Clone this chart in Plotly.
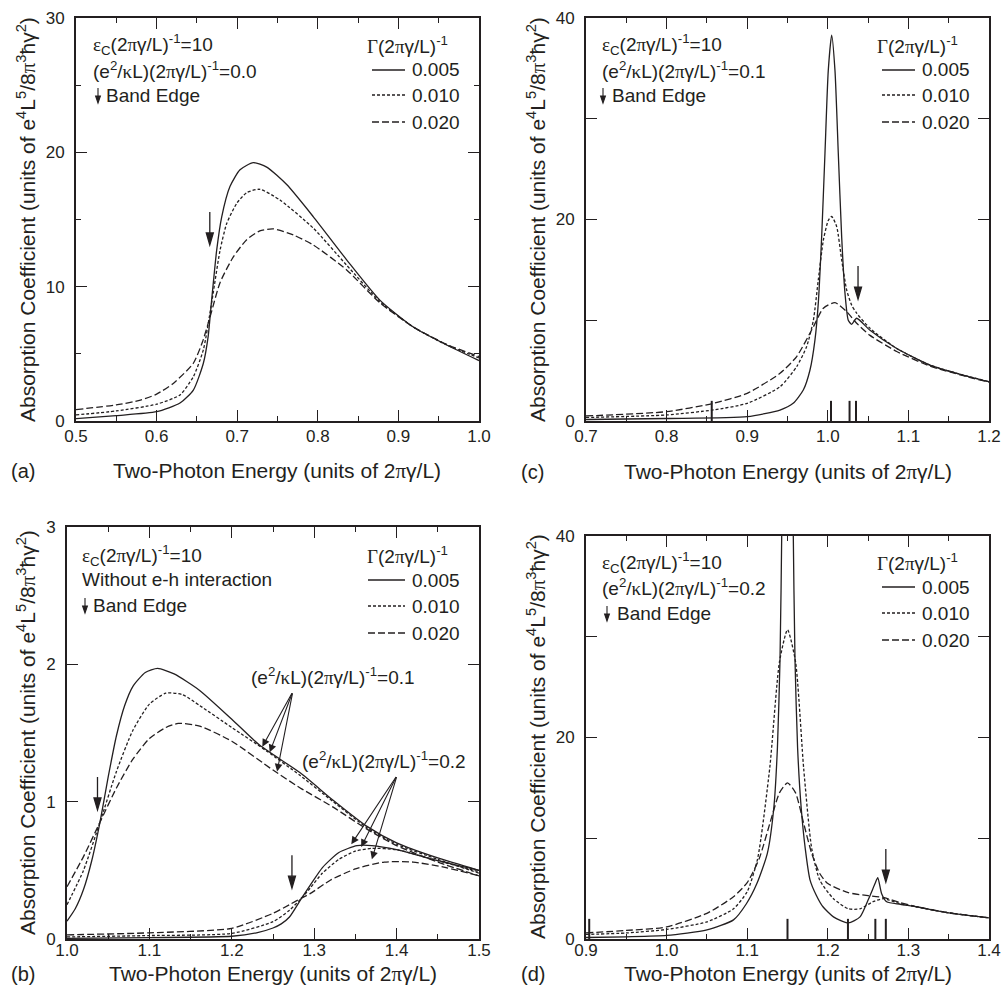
import plotly.graph_objects as go

W, H = 1003, 1004
INK = "#231f20"
FONT = "Liberation Sans, Arial, Helvetica, sans-serif"

def gr(ch):
    return '<span style="font-family:Liberation Serif">' + ch + '</span>'

PI, KAPPA, GAMMA_UP, EPS = gr("π"), gr("κ"), gr("Γ"), gr("ε")

# ---------------- data ----------------
gamma_labels = ["0.005", "0.010", "0.020"]

# panel (a): e^2/kL = 0.0
a_x_solid = [0.5, 0.55, 0.6, 0.629, 0.6456, 0.658, 0.664, 0.6675, 0.6704, 0.6745, 0.6808, 0.691, 0.7035,
             0.72, 0.7366, 0.7614, 0.7945, 0.8358, 0.877, 0.9185, 0.96, 1.0]
a_y_solid = [0.18, 0.4, 0.69, 1.34, 2.3, 4.3, 6.3, 8.5, 10.3, 12.7, 15.2, 17.45, 18.7,
             19.23, 18.9, 17.6, 15.2, 12.0, 9.0, 7.0, 5.66, 4.5]
a_x_dot = [0.5, 0.55, 0.6, 0.629, 0.6456, 0.658, 0.6675, 0.6787, 0.687, 0.6994, 0.7118, 0.728, 0.7531,
           0.7945, 0.8358, 0.877, 0.9185, 0.96, 1.0]
a_y_dot = [0.45, 0.75, 1.25, 1.94, 3.3, 5.3, 8.5, 12.7, 14.7, 16.2, 17.0, 17.25, 16.45,
           14.35, 11.6, 8.9, 7.0, 5.66, 4.7]
a_x_dash = [0.5, 0.55, 0.58, 0.6, 0.6207, 0.6456, 0.657, 0.6675, 0.6787, 0.695, 0.7118, 0.728, 0.7448,
            0.7696, 0.7945, 0.8358, 0.877, 0.9185, 0.96, 1.0]
a_y_dash = [0.85, 1.2, 1.55, 2.0, 2.8, 4.3, 5.9, 8.0, 10.3, 12.2, 13.5, 14.15, 14.3,
            13.85, 13.1, 11.25, 8.8, 7.0, 5.7, 4.8]

# panel (c): e^2/kL = 0.1
c_x_solid = [0.7, 0.8, 0.9, 0.9407, 0.957, 0.9696, 0.9779, 0.984, 0.9882, 0.9924, 0.9965, 1.0006, 1.0048,
             1.0089, 1.013, 1.0172, 1.0213, 1.0254, 1.0296, 1.0358, 1.0524, 1.0855, 1.1268, 1.168, 1.2]
c_y_solid = [0.15, 0.25, 0.43, 1.09, 1.75, 3.07, 5.06, 8.0, 11.7, 18.3, 26.6, 34.8, 38.3,
             34.8, 26.6, 18.3, 12.7, 10.0, 9.6, 10.2, 9.0, 7.2, 5.55, 4.56, 3.9]
c_x_dot = [0.7, 0.8, 0.858, 0.9, 0.9407, 0.9614, 0.9738, 0.9821, 0.9882, 0.9945, 1.0006, 1.0048, 1.011,
           1.0172, 1.0234, 1.0296, 1.0358, 1.0524, 1.0855, 1.1268, 1.168, 1.2]
c_y_dot = [0.35, 0.6, 1.1, 1.75, 3.4, 5.4, 7.4, 10.0, 14.0, 17.96, 19.9, 20.3, 19.3,
           16.0, 13.0, 11.5, 10.7, 9.2, 7.2, 5.55, 4.56, 3.9]
c_x_dash = [0.7, 0.8, 0.858, 0.9, 0.9407, 0.9614, 0.9821, 0.9945, 1.0089, 1.0234, 1.0358, 1.0524,
            1.0855, 1.1268, 1.168, 1.2]
c_y_dash = [0.5, 0.93, 1.75, 2.75, 4.73, 6.4, 9.35, 11.2, 11.75, 10.85, 9.7, 8.5,
            6.9, 5.45, 4.5, 3.85]
c_levels = [0.856, 1.004, 1.027, 1.035]

# panel (b): without e-h interaction; two coupling values
b1_x_solid = [1.0, 1.01, 1.02, 1.03, 1.04, 1.05, 1.06, 1.07, 1.08, 1.095, 1.11, 1.13, 1.161, 1.2, 1.234,
              1.283, 1.323, 1.364, 1.4, 1.45, 1.5]
b1_y_solid = [0.13, 0.22, 0.36, 0.57, 0.85, 1.18, 1.48, 1.7, 1.84, 1.94, 1.97, 1.93, 1.81, 1.6, 1.41,
              1.21, 1.01, 0.82, 0.7, 0.59, 0.5]
b1_x_dot = [1.0, 1.02, 1.04, 1.06, 1.08, 1.1, 1.12, 1.14, 1.161, 1.2, 1.242, 1.283, 1.323, 1.364, 1.4,
            1.45, 1.5]
b1_y_dot = [0.25, 0.5, 0.85, 1.22, 1.52, 1.71, 1.79, 1.78, 1.70, 1.54, 1.37, 1.19, 1.0, 0.81, 0.69,
            0.58, 0.48]
b1_x_dash = [1.0, 1.02, 1.04, 1.06, 1.08, 1.1, 1.12, 1.135, 1.161, 1.2, 1.25, 1.283, 1.323, 1.364, 1.4,
             1.45, 1.5]
b1_y_dash = [0.38, 0.6, 0.85, 1.1, 1.31, 1.46, 1.54, 1.57, 1.55, 1.44, 1.23, 1.1, 0.96, 0.8, 0.68,
             0.56, 0.46]
b2_x_solid = [1.0, 1.1, 1.2, 1.23, 1.25, 1.26, 1.27, 1.285, 1.295, 1.31, 1.33, 1.352, 1.37, 1.4, 1.45, 1.5]
b2_y_solid = [0.005, 0.01, 0.02, 0.045, 0.08, 0.11, 0.16, 0.30, 0.39, 0.52, 0.63, 0.68, 0.68, 0.65, 0.57, 0.5]
b2_x_dot = [1.0, 1.1, 1.2, 1.25, 1.27, 1.285, 1.295, 1.31, 1.33, 1.35, 1.37, 1.4, 1.45, 1.5]
b2_y_dot = [0.015, 0.025, 0.041, 0.126, 0.21, 0.30, 0.37, 0.48, 0.58, 0.64, 0.66, 0.65, 0.57, 0.49]
b2_x_dash = [1.0, 1.1, 1.2, 1.25, 1.27, 1.285, 1.295, 1.32, 1.35, 1.385, 1.42, 1.46, 1.5]
b2_y_dash = [0.03, 0.045, 0.078, 0.187, 0.25, 0.30, 0.33, 0.43, 0.51, 0.56, 0.56, 0.52, 0.46]

# panel (d): e^2/kL = 0.2
d_x_solid = [0.9, 0.95, 1.0, 1.05, 1.083, 1.099, 1.112, 1.125, 1.133, 1.1375, 1.1407, 1.1428, 1.15,
             1.1572, 1.1593, 1.1625, 1.167, 1.172, 1.178, 1.186, 1.194, 1.207, 1.2254, 1.24, 1.25,
             1.2586, 1.262, 1.2668, 1.273, 1.29, 1.31, 1.35, 1.4]
d_y_solid = [0.15, 0.22, 0.35, 0.9, 1.9, 3.5, 5.5, 8.5, 13, 19, 27.7, 40, 110,
             40, 27.7, 19, 13, 9, 5.85, 4.3, 3.2, 2.2, 1.6, 2.2, 3.87,
             5.5, 6.1, 4.5, 3.7, 3.45, 3.2, 2.6, 2.1]
d_x_dot = [0.9, 0.95, 1.0, 1.05, 1.083, 1.1, 1.113, 1.128, 1.14, 1.15, 1.16, 1.17, 1.18, 1.19, 1.207,
           1.2254, 1.24, 1.256, 1.269, 1.29, 1.31, 1.35, 1.4]
d_y_dot = [0.45, 0.6, 0.95, 1.7, 3.0, 4.7, 8.0, 17, 27.5, 30.7, 27.5, 17, 9.0, 5.85, 4.0,
           3.0, 3.0, 3.7, 4.0, 3.5, 3.2, 2.6, 2.1]
d_x_dash = [0.9, 0.95, 1.0, 1.05, 1.083, 1.1, 1.115, 1.13, 1.14, 1.15, 1.16, 1.17, 1.18, 1.19, 1.2,
            1.2254, 1.25, 1.27, 1.29, 1.31, 1.35, 1.4]
d_y_dash = [0.6, 0.85, 1.2, 2.55, 4.2, 5.6, 8.0, 12.0, 14.5, 15.5, 14.5, 11.5, 8.5, 6.5, 5.5,
            4.6, 4.3, 4.1, 3.6, 3.2, 2.6, 2.1]
d_levels = [0.904, 1.150, 1.225, 1.259, 1.272]

# band edges: (x, y of arrow tip)
edge_a = [(0.666, 13.1)]
edge_c = [(1.0375, 12.1)]
edge_b = [(1.037, 0.94), (1.273, 0.37)]
edge_d = [(1.272, 5.65)]

# pointer arrows in (b): label tail point and curve tips
b_ptr1_tail = (1.274, 1.80)
b_ptr1_tips = [(1.237, 1.40), (1.246, 1.36), (1.255, 1.22)]
b_ptr2_tail = (1.4005, 1.19)
b_ptr2_tips = [(1.345, 0.69), (1.357, 0.67), (1.37, 0.58)]

# tick values
a_yticks, a_yminor = [0, 10, 20, 30], [5, 15, 25]
cd_yticks, cd_yminor = [0, 20, 40], [10, 30]
b_yticks = [0, 1, 2, 3]

# ---------------- styling ----------------
DASHES = ["solid", "3px,2px", "7px,3px"]
LW = 1.3

def fx(p):
    return p / W

def fy(p):
    return 1 - p / H

fig = go.Figure()

def add_curves(sets, xa, ya):
    for (xs, ys), d in zip(sets, DASHES):
        fig.add_trace(go.Scatter(x=xs, y=ys, mode="lines", xaxis=xa, yaxis=ya, showlegend=False,
                                 hoverinfo="skip",
                                 line=dict(color=INK, width=LW, dash=d, shape="spline", smoothing=0.6)))

def add_levels(levels, xa, ya, h=2.0):
    xs, ys = [], []
    for l in levels:
        xs += [l, l, None]
        ys += [0, h, None]
    fig.add_trace(go.Scatter(x=xs, y=ys, mode="lines", xaxis=xa, yaxis=ya, showlegend=False,
                             hoverinfo="skip", line=dict(color=INK, width=2)))

add_curves([(a_x_solid, a_y_solid), (a_x_dot, a_y_dot), (a_x_dash, a_y_dash)], "x", "y")
add_curves([(c_x_solid, c_y_solid), (c_x_dot, c_y_dot), (c_x_dash, c_y_dash)], "x2", "y2")
add_curves([(b1_x_solid, b1_y_solid), (b1_x_dot, b1_y_dot), (b1_x_dash, b1_y_dash)], "x3", "y3")
add_curves([(b2_x_solid, b2_y_solid), (b2_x_dot, b2_y_dot), (b2_x_dash, b2_y_dash)], "x3", "y3")
add_curves([(d_x_solid, d_y_solid), (d_x_dot, d_y_dot), (d_x_dash, d_y_dash)], "x4", "y4")
add_levels(c_levels, "x2", "y2")
add_levels(d_levels, "x4", "y4")

tickfont = dict(family=FONT, size=17, color=INK)

def xax(left, right, rng, anchor, standoff):
    return dict(domain=[fx(left), fx(right)], range=rng, anchor=anchor, dtick=0.1, tick0=rng[0],
                ticks="inside", ticklen=11, tickwidth=1.2, tickcolor=INK,
                minor=dict(dtick=0.05, tick0=rng[0], ticks="inside", ticklen=5, tickwidth=1.2, tickcolor=INK),
                showline=True, linewidth=2, linecolor=INK, mirror="ticks", showgrid=False, zeroline=False,
                tickformat=".1f", tickfont=tickfont, fixedrange=True, ticklabelstandoff=standoff,
                automargin=False)

def yax(top, bottom, rng, anchor, tickvals, minor=None, minorlen=5):
    d = dict(domain=[fy(bottom), fy(top)], range=rng, anchor=anchor, tickmode="array",
             tickvals=tickvals, ticktext=[str(v) for v in tickvals],
             ticks="inside", ticklen=11, tickwidth=1.2, tickcolor=INK,
             showline=True, linewidth=2, linecolor=INK, mirror="ticks", showgrid=False, zeroline=False,
             tickfont=tickfont, fixedrange=True, ticklabelstandoff=6, automargin=False)
    if minor is not None:
        d["minor"] = dict(tickmode="array", tickvals=minor, ticks="inside", ticklen=minorlen,
                          tickwidth=1.2, tickcolor=INK)
    return d

fig.update_layout(
    width=W, height=H, margin=dict(l=0, r=0, t=0, b=0, autoexpand=False),
    paper_bgcolor="white", plot_bgcolor="white", showlegend=False,
    xaxis=xax(76, 479, [0.5, 1.0], "y", -1),
    yaxis=yax(18, 421, [0, 30], "x", a_yticks, a_yminor, 5),
    xaxis2=xax(586, 989, [0.7, 1.2], "y2", -1),
    yaxis2=yax(18, 421, [0, 40], "x2", cd_yticks, cd_yminor, 11),
    xaxis3=xax(67, 479, [1.0, 1.5], "y3", -5),
    yaxis3=yax(527, 939, [0, 3], "x3", b_yticks),
    xaxis4=xax(586, 989, [0.9, 1.4], "y4", -5),
    yaxis4=yax(536, 939, [0, 40], "x4", cd_yticks, cd_yminor, 11),
)

ann = []
shapes = []

def txt(px_, py_, text, size=19, xanchor="left", yanchor="middle", angle=0):
    ann.append(dict(xref="paper", yref="paper", x=fx(px_), y=fy(py_), text=text, showarrow=False,
                    xanchor=xanchor, yanchor=yanchor, textangle=angle, borderpad=0, borderwidth=0,
                    font=dict(family=FONT, size=size, color=INK)))

def arrow_shape(xref, yref, x, y, L=33, hl=12, hw=3.5, w=1.3):
    path = f"M0,0 L{-hw},{hl} L{hw},{hl} Z M0,{hl} L0,{L}"
    shapes.append(dict(type="path", xref=xref, yref=yref, xsizemode="pixel", ysizemode="pixel",
                       xanchor=x, yanchor=y, path=path, fillcolor=INK, line=dict(color=INK, width=w)))

RECIP = "(2" + PI + "γ/L)<sup>-1</sup>"
xtitle = "Two-Photon Energy (units of 2" + PI + "γ/L)"
ytitle = ("Absorption Coefficient (units of e<sup>4</sup>L<sup>5</sup>/8" + PI +
          "<sup>3</sup>ħγ<sup>2</sup>)")

panels = [
    dict(lab="(a)", xt=277, lx=23, ty=471, yx=26, yy=220,
         left=93, rows=[45, 70, 95], arr=98, bt=106,
         gx=367, lx0=372, lx1=405, vx=412, grows=[45, 70, 95, 122],
         line2="(e<sup>2</sup>/" + KAPPA + "L)" + RECIP + "=0.0"),
    dict(lab="(c)", xt=788, lx=532, ty=472, yx=536, yy=220,
         left=602, rows=[45, 70, 95], arr=603, bt=612,
         gx=877, lx0=882, lx1=915, vx=922, grows=[45, 70, 95, 122],
         line2="(e<sup>2</sup>/" + KAPPA + "L)" + RECIP + "=0.1"),
    dict(lab="(b)", xt=273, lx=23, ty=974, yx=26, yy=733,
         left=82, rows=[555, 579, 605], arr=85, bt=93,
         gx=367, lx0=368, lx1=405, vx=412, grows=[555, 580, 606, 633],
         line2="Without e-h interaction"),
    dict(lab="(d)", xt=788, lx=533, ty=974, yx=536, yy=737,
         left=602, rows=[562, 587, 613], arr=607, bt=617,
         gx=877, lx0=882, lx1=915, vx=922, grows=[562, 587, 613, 640],
         line2="(e<sup>2</sup>/" + KAPPA + "L)" + RECIP + "=0.2"),
]

for p in panels:
    txt(p["xt"], p["ty"], xtitle, size=21, xanchor="center")
    txt(p["lx"], p["ty"], p["lab"], size=20, xanchor="center")
    txt(p["yx"], p["yy"], ytitle, size=21, xanchor="center", yanchor="middle", angle=-90)
    txt(p["left"], p["rows"][0], EPS + "<sub>C</sub>" + RECIP + "=10")
    txt(p["left"], p["rows"][1], p["line2"])
    txt(p["bt"], p["rows"][2], "Band Edge")
    arrow_shape("paper", "paper", fx(p["arr"]), fy(p["rows"][2] + 8), L=15, hl=7, hw=2.4, w=1.1)
    txt(p["gx"], p["grows"][0], GAMMA_UP + RECIP)
    for lbl, d, ry in zip(gamma_labels, DASHES, p["grows"][1:]):
        shapes.append(dict(type="line", xref="paper", yref="paper", x0=fx(p["lx0"]), x1=fx(p["lx1"]),
                           y0=fy(ry), y1=fy(ry), line=dict(color=INK, width=LW, dash=d)))
        txt(p["vx"], ry, lbl)

for (x, y) in edge_a:
    arrow_shape("x", "y", x, y)
for (x, y) in edge_c:
    arrow_shape("x2", "y2", x, y)
for (x, y) in edge_b:
    arrow_shape("x3", "y3", x, y)
for (x, y) in edge_d:
    arrow_shape("x4", "y4", x, y)

txt(333, 676, "(e<sup>2</sup>/" + KAPPA + "L)" + RECIP + "=0.1", size=19, xanchor="center")
txt(384, 760, "(e<sup>2</sup>/" + KAPPA + "L)" + RECIP + "=0.2", size=19, xanchor="center")
for tail, tips in [(b_ptr1_tail, b_ptr1_tips), (b_ptr2_tail, b_ptr2_tips)]:
    for (tx, ty) in tips:
        ann.append(dict(xref="x3", yref="y3", axref="x3", ayref="y3", x=tx, y=ty, ax=tail[0], ay=tail[1],
                        text="", showarrow=True, arrowhead=2, arrowsize=1.4, arrowwidth=1.1,
                        arrowcolor=INK, standoff=0))

fig.update_layout(annotations=ann, shapes=shapes)
fig.write_html("out.html", config={"displayModeBar": False},
               post_script="document.body.style.margin='0px';document.body.style.overflow='hidden';")
